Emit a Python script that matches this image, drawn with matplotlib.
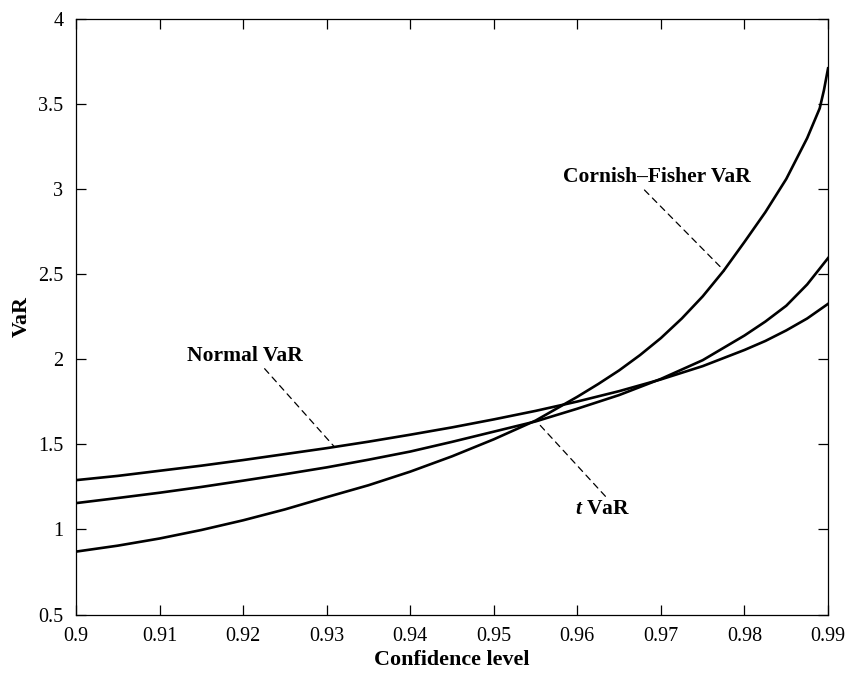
import numpy as np
import matplotlib
matplotlib.use("Agg")
import matplotlib.pyplot as plt

plt.rcParams['font.family'] = ['Liberation Serif', 'DejaVu Serif']
plt.rcParams['mathtext.fontset'] = 'custom'
plt.rcParams['mathtext.it'] = 'Liberation Serif:italic:bold'
plt.rcParams['mathtext.rm'] = 'Liberation Serif:bold'

# values
conf = [0.900, 0.905, 0.910, 0.915, 0.920, 0.925, 0.930, 0.935, 0.940, 0.945,
        0.950, 0.955, 0.960, 0.965, 0.970, 0.975, 0.980, 0.9825, 0.985,
        0.9875, 0.990]
normal_var = [1.290, 1.315, 1.345, 1.375, 1.408, 1.443, 1.478, 1.516, 1.557, 1.600,
              1.647, 1.697, 1.752, 1.813, 1.882, 1.960, 2.055, 2.108, 2.170,
              2.240, 2.326]
t_var = [1.155, 1.185, 1.216, 1.250, 1.287, 1.325, 1.365, 1.410, 1.458, 1.515,
         1.575, 1.635, 1.710, 1.790, 1.885, 1.995, 2.140, 2.222, 2.315,
         2.440, 2.595]
cf_conf = [0.900, 0.905, 0.910, 0.915, 0.920, 0.925, 0.930, 0.935, 0.940, 0.945,
           0.950, 0.955, 0.960, 0.9625, 0.965, 0.9675, 0.970, 0.9725, 0.975,
           0.9775, 0.980, 0.9825, 0.985, 0.9875, 0.989, 0.9895, 0.990]
cf_var = [0.870, 0.905, 0.947, 0.997, 1.054, 1.118, 1.190, 1.260, 1.340, 1.430,
          1.530, 1.640, 1.780, 1.855, 1.935, 2.025, 2.125, 2.240, 2.370,
          2.520, 2.690, 2.865, 3.060, 3.300, 3.475, 3.580, 3.710]

xticks = [0.9, 0.91, 0.92, 0.93, 0.94, 0.95, 0.96, 0.97, 0.98, 0.99]
yticks = [0.5, 1, 1.5, 2, 2.5, 3, 3.5, 4]

fig = plt.figure(figsize=(8.46, 6.73), dpi=100)
ax = fig.add_axes([0.0898, 0.0868, 0.889, 0.885])

lw = 1.9
ax.plot(conf, normal_var, color='black', lw=lw)
ax.plot(conf, t_var, color='black', lw=lw)
ax.plot(cf_conf, cf_var, color='black', lw=lw)

ax.set_xlim(0.9, 0.99)
ax.set_ylim(0.5, 4)
ax.set_xticks(xticks)
ax.set_xticklabels(['%g' % v for v in xticks])
ax.set_yticks(yticks)
ax.set_yticklabels(['%g' % v for v in yticks])
ax.tick_params(direction='in', length=7, width=0.9, top=True, right=True,
               labelsize=14.5, pad=9)
for s in ax.spines.values():
    s.set_linewidth(0.9)

ax.set_xlabel('Confidence level', fontsize=15.8, fontweight='bold', labelpad=3)
ax.set_ylabel('VaR', fontsize=15.8, fontweight='bold', labelpad=5)

# labels with dashed pointers
fs = 15.5
dash = dict(arrowstyle='-', color='black', lw=0.9, linestyle=(0, (5, 4)),
            shrinkA=0, shrinkB=0)
ax.annotate('Normal VaR', xy=(0.93085, 1.49), xytext=(0.9202, 2.02),
            fontsize=fs, fontweight='bold', ha='center', va='center',
            arrowprops=dict(dash, relpos=(0.65, 0.0)))
ax.annotate('Cornish\u2013Fisher VaR', xy=(0.97758, 2.52), xytext=(0.9695, 3.07),
            fontsize=fs, fontweight='bold', ha='center', va='center',
            arrowprops=dict(dash, relpos=(0.42, 0.0)))
ax.annotate('$t$ VaR', xy=(0.95531, 1.625), xytext=(0.9630, 1.12),
            fontsize=fs, fontweight='bold', ha='center', va='center',
            arrowprops=dict(dash, relpos=(0.6, 1.0)))

fig.savefig('out.png', dpi=100)
